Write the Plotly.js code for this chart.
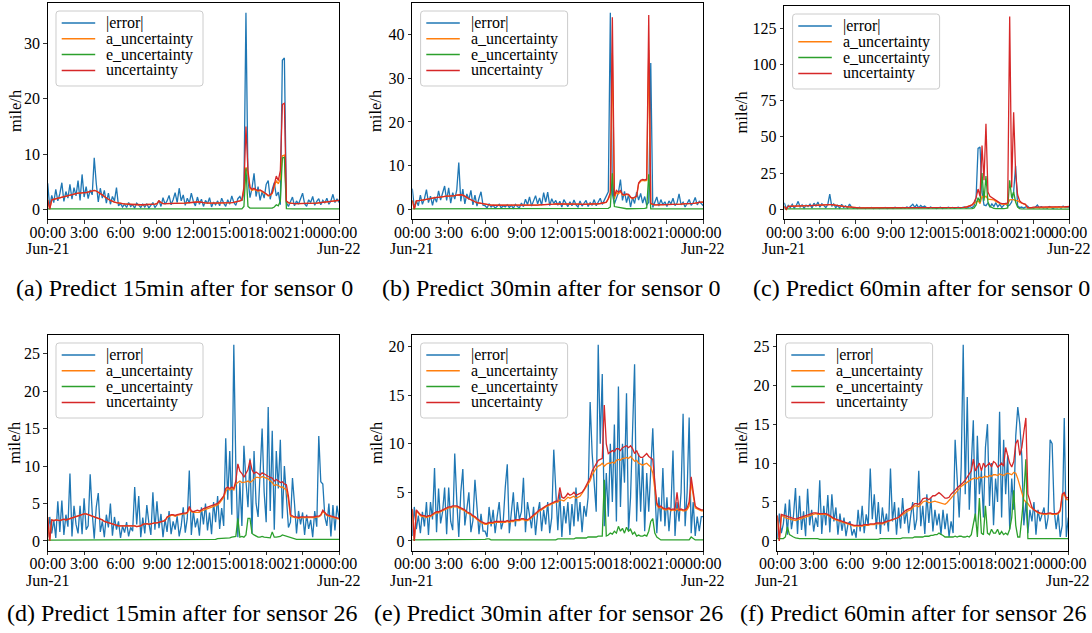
<!DOCTYPE html>
<html><head><meta charset="utf-8">
<script src="https://cdn.plot.ly/plotly-3.0.1.min.js"></script>
<style>html,body{margin:0;padding:0;background:#fff}#chart{width:1092px;height:633px}</style>
</head><body><div id="chart"></div>
<script>
// time of day in minutes (10-minute steps, 00:00 Jun-21 .. 00:00 Jun-22)
const minutes = [0,10,20,30,40,50,60,70,80,90,100,110,120,130,140,150,160,170,180,190,200,210,220,230,240,250,260,270,280,290,300,310,320,330,340,350,360,370,380,390,400,410,420,430,440,450,460,470,480,490,500,510,520,530,540,550,560,570,580,590,600,610,620,630,640,650,660,670,680,690,700,710,720,730,740,750,760,770,780,790,800,810,820,830,840,850,860,870,880,890,900,910,920,930,940,950,960,970,980,990,1000,1010,1020,1030,1040,1050,1060,1070,1080,1090,1100,1110,1120,1130,1140,1150,1160,1170,1180,1190,1200,1210,1220,1230,1240,1250,1260,1270,1280,1290,1300,1310,1320,1330,1340,1350,1360,1370,1380,1390,1400,1410,1420,1430,1440];
const tickMinutes = [0,180,360,540,720,900,1080,1260,1440];
const tickLabels = ['00:00','3:00','6:00','9:00','12:00','15:00','18:00','21:00','00:00'];
const seriesNames = ['|error|','a_uncertainty','e_uncertainty','uncertainty'];
const yTitle = 'mile/h';
const captions = ['(a) Predict 15min after for sensor 0','(b) Predict 30min after for sensor 0','(c) Predict 60min after for sensor 0',
                  '(d) Predict 15min after for sensor 26','(e) Predict 30min after for sensor 26','(f) Predict 60min after for sensor 26'];

// ---------- (a) sensor 0, 15 min ----------
const errA = [4.7,0.3,2.5,1.2,3.6,1.5, 2.8,4.8,1.4,3.2,2.0,4.5, 1.8,3.9,2.4,5.2,1.6,6.3, 2.2,4.1,1.9,3.5,2.6,9.3, 4.7,1.3,3.8,2.0,3.4,1.1, 2.9,0.9,2.3,1.5,3.9,0.6, 1.0,0.4,0.9,0.3,1.2,0.5, 0.8,0.2,1.1,0.6,0.3,0.9, 0.4,1.0,0.2,0.7,1.2,0.3, 0.8,1.6,0.5,2.1,0.9,1.5, 2.5,0.8,1.7,3.0,1.2,3.8, 1.5,2.6,0.7,2.0,1.1,2.9, 1.4,0.6,2.2,0.9,1.8,0.5, 1.6,1.0,2.1,0.4,1.3,0.8, 1.5,0.6,2.0,1.1,0.5,1.7, 0.9,2.4,1.2,0.7,1.9,2.3, 1.5,3.0,35.6,5.5,2.1,3.8, 6.5,2.3,4.1,1.6,3.2,2.0, 4.5,5.2,1.8,3.6,4.8,2.4, 3.1,0.8,27.0,27.4,1.2,0.5, 1.3,2.2,0.6,1.5,0.9,1.8, 2.9,1.0,0.5,1.7,1.2,2.3, 0.7,1.4,1.9,0.8,1.6,1.1, 2.0,0.9,1.5,2.7,1.2,1.9, 1.2];
const aA = [1.7,0.0,1.7,1.8,1.8,1.9, 2.0,2.1,2.3,2.4,2.5,2.6, 2.7,2.7,2.8,2.9,2.9,3.0, 3.0,3.0,3.1,3.2,3.3,3.4, 3.3,3.1,2.9,2.6,2.3,2.0, 1.8,1.6,1.4,1.3,1.2,1.1, 1.0,1.0,0.95,0.9,0.9,0.9, 0.85,0.85,0.8,0.8,0.8,0.8, 0.8,0.8,0.85,0.85,0.9,0.9, 1.0,1.5,1.2,1.0,1.0,1.0, 1.0,1.0,1.0,1.05,1.1,1.1, 1.1,1.1,1.1,1.15,1.2,1.2, 1.2,1.25,1.3,1.3,1.2,1.2, 1.15,1.1,1.1,1.1,1.1,1.1, 1.1,1.1,1.15,1.1,1.1,1.1, 1.15,1.2,1.25,1.3,1.4,1.5, 1.65,3.5,7.6,6.5,3.8,3.4, 3.6,3.35,3.25,3.4,3.2,3.0, 2.7,2.4,2.5,2.8,4.1,5.2, 4.6,5.5,9.7,9.8,1.4,1.15, 1.1,1.0,1.0,1.0,1.0,1.0, 1.0,1.0,1.0,1.0,1.05,1.1, 1.1,1.1,1.15,1.2,1.2,1.25, 1.3,1.35,1.4,1.5,1.5,1.55, 1.6];
const eA = [0.05,0.05,0.05,0.05,0.05,0.05, 0.05,0.05,0.05,0.05,0.05,0.05, 0.05,0.05,0.05,0.05,0.05,0.05, 0.05,0.05,0.05,0.05,0.05,0.05, 0.05,0.05,0.05,0.05,0.05,0.05, 0.05,0.05,0.05,0.05,0.05,0.05, 0.05,0.05,0.05,0.05,0.05,0.05, 0.05,0.05,0.05,0.05,0.05,0.05, 0.05,0.05,0.05,0.05,0.05,0.05, 0.05,0.05,0.05,0.05,0.05,0.05, 0.05,0.05,0.05,0.05,0.05,0.05, 0.05,0.05,0.05,0.05,0.05,0.05, 0.05,0.05,0.05,0.05,0.05,0.05, 0.05,0.05,0.05,0.05,0.05,0.05, 0.05,0.05,0.05,0.05,0.05,0.05, 0.05,0.05,0.05,0.05,0.05,0.05, 0.05,0.5,7.4,0.5,0.2,0.2, 0.2,0.15,0.15,0.1,0.1,0.1, 0.1,0.1,0.1,0.2,0.4,0.8, 0.6,1.5,9.3,9.4,0.1,0.05, 0.05,0.05,0.05,0.05,0.05,0.05, 0.05,0.05,0.05,0.05,0.05,0.05, 0.05,0.05,0.05,0.05,0.05,0.05, 0.05,0.05,0.05,0.05,0.05,0.05, 0.05];
const uncA = [1.7,0.0,1.7,1.8,1.8,1.9, 2.0,2.1,2.3,2.4,2.5,2.6, 2.7,2.7,2.8,2.9,2.9,3.0, 3.0,3.0,3.1,3.2,3.3,3.4, 3.3,3.1,2.9,2.6,2.3,2.0, 1.8,1.6,1.4,1.3,1.2,1.1, 1.0,1.0,0.95,0.9,0.9,0.9, 0.85,0.85,0.8,0.8,0.8,0.8, 0.8,0.8,0.85,0.85,0.9,0.9, 1.0,1.5,1.2,1.0,1.0,1.0, 1.0,1.0,1.0,1.05,1.1,1.1, 1.1,1.1,1.1,1.15,1.2,1.2, 1.2,1.25,1.3,1.3,1.2,1.2, 1.15,1.1,1.1,1.1,1.1,1.1, 1.1,1.1,1.15,1.1,1.1,1.1, 1.15,1.2,1.25,1.3,1.4,1.5, 1.7,4.0,15.0,7.0,4.0,3.6, 3.8,3.5,3.4,3.5,3.3,3.1, 2.8,2.5,2.6,3.0,4.5,6.0, 5.2,7.0,19.0,19.2,1.5,1.2, 1.1,1.0,1.0,1.0,1.0,1.0, 1.0,1.0,1.0,1.0,1.05,1.1, 1.1,1.1,1.15,1.2,1.2,1.25, 1.3,1.35,1.4,1.5,1.5,1.55, 1.6];

// ---------- (b) sensor 0, 30 min ----------
const errB = [4.7,0.3,1.9,0.8,3.2,1.1, 2.4,4.5,1.5,3.0,0.9,2.8, 1.6,4.2,2.1,3.6,5.3,2.0, 4.9,1.4,3.8,2.3,4.4,10.7, 1.8,4.6,1.2,3.5,2.2,4.3, 1.0,3.2,0.7,2.5,4.0,0.9, 0.8,0.3,1.2,0.5,0.9,0.2, 0.7,1.1,0.3,0.8,0.5,1.0, 0.4,0.9,0.2,1.1,0.6,0.3, 1.4,0.6,2.3,1.0,2.8,0.7, 1.9,3.1,1.2,2.6,0.9,3.8, 1.6,3.9,0.8,2.4,1.3,2.0, 0.9,1.8,0.5,2.2,1.4,0.6, 1.7,0.8,2.1,1.0,0.5,1.9, 0.7,1.3,2.0,0.6,1.5,0.9, 2.2,0.8,1.6,2.5,1.1,2.0, 2.8,4.0,45.0,3.5,1.2,2.5, 3.8,6.8,2.0,4.1,1.5,3.3, 0.5,2.7,1.3,3.9,2.1,3.6, 1.4,2.9,0.9,1.6,33.5,0.4, 1.5,2.8,0.7,2.2,1.0,1.7, 0.6,1.9,1.2,2.5,0.8,1.4, 3.5,1.0,1.6,0.5,1.3,2.2, 0.9,1.5,2.7,1.0,1.8,1.2, 0.8];
const aB = [2.0,0.0,1.9,1.9,2.0,2.1, 2.2,2.3,2.4,2.5,2.5,2.6, 2.7,2.7,2.8,2.9,2.9,3.0, 3.0,3.0,3.1,3.1,3.2,3.3, 3.3,3.2,3.0,2.7,2.4,2.1, 1.9,1.7,1.5,1.4,1.3,1.2, 1.1,1.0,1.0,0.95,0.9,0.9, 0.85,0.85,0.8,0.8,0.8,0.8, 0.8,0.8,0.8,0.8,0.85,0.85, 0.85,0.9,0.9,0.9,0.9,0.9, 0.9,0.95,0.95,1.0,1.0,1.0, 1.05,1.1,1.1,1.1,1.15,1.2, 1.2,1.25,1.3,1.3,1.3,1.25, 1.25,1.2,1.2,1.2,1.15,1.15, 1.1,1.1,1.1,1.1,1.1,1.1, 1.15,1.2,1.25,1.3,1.4,1.5, 1.55,2.3,3.3,35.8,2.4,3.8, 3.5,4.0,3.2,3.2,3.4,3.3, 2.7,2.4,2.6,2.9,5.8,6.4, 6.6,6.5,6.6,36.5,1.2,1.05, 1.0,1.0,1.0,1.0,1.0,1.0, 1.0,1.0,1.0,1.05,1.1,1.1, 1.1,1.15,1.2,1.2,1.25,1.3, 1.3,1.35,1.4,1.5,1.55,1.6, 1.6];
const eB = [0.05,0.05,0.05,0.05,0.05,0.05, 0.05,0.05,0.05,0.05,0.05,0.05, 0.05,0.05,0.05,0.05,0.05,0.05, 0.05,0.05,0.05,0.05,0.05,0.05, 0.05,0.05,0.05,0.05,0.05,0.05, 0.05,0.05,0.05,0.05,0.05,0.05, 0.05,0.05,0.05,0.05,0.05,0.05, 0.05,0.05,0.05,0.05,0.05,0.05, 0.05,0.05,0.05,0.05,0.05,0.05, 0.05,0.05,0.05,0.05,0.05,0.05, 0.05,0.05,0.05,0.05,0.05,0.05, 0.05,0.05,0.05,0.05,0.05,0.05, 0.05,0.05,0.05,0.05,0.05,0.05, 0.05,0.05,0.05,0.05,0.05,0.05, 0.05,0.05,0.05,0.05,0.05,0.05, 0.05,0.05,0.05,0.05,0.05,0.05, 0.05,0.2,0.5,8.2,0.6,0.5, 0.4,0.3,0.2,0.1,0.1,0.1, 0.1,0.1,0.1,0.1,0.2,0.2, 0.2,0.2,0.3,8.0,0.1,0.05, 0.05,0.05,0.05,0.05,0.05,0.05, 0.05,0.05,0.05,0.05,0.05,0.05, 0.05,0.05,0.05,0.05,0.05,0.05, 0.05,0.05,0.05,0.05,0.05,0.05, 0.05];
const uncB = [2.0,0.0,1.9,1.9,2.0,2.1, 2.2,2.3,2.4,2.5,2.5,2.6, 2.7,2.7,2.8,2.9,2.9,3.0, 3.0,3.0,3.1,3.1,3.2,3.3, 3.3,3.2,3.0,2.7,2.4,2.1, 1.9,1.7,1.5,1.4,1.3,1.2, 1.1,1.0,1.0,0.95,0.9,0.9, 0.85,0.85,0.8,0.8,0.8,0.8, 0.8,0.8,0.8,0.8,0.85,0.85, 0.85,0.9,0.9,0.9,0.9,0.9, 0.9,0.95,0.95,1.0,1.0,1.0, 1.05,1.1,1.1,1.1,1.15,1.2, 1.2,1.25,1.3,1.3,1.3,1.25, 1.25,1.2,1.2,1.2,1.15,1.15, 1.1,1.1,1.1,1.1,1.1,1.1, 1.15,1.2,1.25,1.3,1.4,1.5, 1.6,2.5,3.8,44.0,3.0,4.3, 3.9,4.3,3.4,3.3,3.5,3.4, 2.8,2.5,2.7,3.0,6.0,6.6, 6.8,6.7,6.9,44.5,1.3,1.1, 1.0,1.0,1.0,1.0,1.0,1.0, 1.0,1.0,1.0,1.05,1.1,1.1, 1.1,1.15,1.2,1.2,1.25,1.3, 1.3,1.35,1.4,1.5,1.55,1.6, 1.6];

// ---------- (c) sensor 0, 60 min ----------
const errC = [4.5,0.5,2.8,1.2,3.4,0.9, 2.5,5.5,1.6,3.1,0.8,2.9, 1.9,3.6,1.0,4.2,2.3,5.0, 1.5,3.8,2.6,1.2,3.4,10.5, 2.0,3.7,1.1,2.8,0.8,3.5, 1.3,2.4,0.9,3.6,1.5,0.7, 1.2,0.6,1.4,0.8,1.0,0.5, 1.1,0.7,1.3,0.6,0.9,1.2, 0.5,1.0,0.7,1.3,0.6,0.9, 1.2,0.6,1.5,0.8,1.1,0.7, 1.3,0.9,1.6,1.0,2.2,3.5, 1.4,3.2,1.0,2.7,1.5,2.3, 1.1,0.7,1.6,0.9,1.2,0.6, 1.0,1.4,0.6,1.2,0.8,1.5, 0.9,1.3,0.7,1.1,1.4,0.8, 1.2,1.6,0.9,1.3,1.8,1.1, 2.5,8.0,42.0,43.0,12.0,3.0, 2.5,4.5,1.5,3.8,2.0,4.6, 1.8,3.5,1.2,2.9,4.0,2.2, 3.0,5.0,12.0,30.0,2.5,1.2, 1.6,0.8,1.5,2.3,0.9,1.2, 0.7,1.5,3.0,1.0,1.8,0.9, 1.3,0.8,1.9,1.1,0.6,1.4, 1.0,1.7,0.8,2.2,1.2,1.6, 1.2];
const aC = [2.0,0.0,2.0,2.0,2.1,2.1, 2.2,2.2,2.3,2.4,2.4,2.5, 2.5,2.6,2.7,2.7,2.8,2.9, 2.9,3.0,3.0,3.1,3.1,3.2, 3.2,3.1,2.9,2.7,2.5,2.3, 2.1,1.9,1.7,1.5,1.3,1.2, 1.1,1.0,1.0,1.0,1.0,1.0, 1.0,1.0,1.0,1.0,1.0,1.0, 1.0,1.0,1.0,1.0,1.0,1.0, 1.0,1.0,1.0,1.1,1.1,1.1, 1.1,1.1,1.1,1.1,1.2,1.2, 1.2,1.2,1.2,1.2,1.2,1.2, 1.2,1.2,1.2,1.1,1.1,1.1, 1.1,1.1,1.1,1.1,1.1,1.1, 1.1,1.1,1.1,1.2,1.2,1.2, 1.3,1.4,1.6,2.0,2.5,3.0, 4.0,5.0,6.0,4.0,9.0,8.0, 9.0,7.0,7.0,7.0,6.5,5.5, 4.6,4.1,3.6,3.3,3.4,3.5, 6.5,6.7,6.7,6.0,6.0,5.0, 4.2,3.7,3.3,1.0,0.8,1.0, 1.3,1.3,1.2,1.1,1.1,1.1, 1.1,1.1,1.1,1.2,1.2,1.2, 1.3,1.3,1.4,1.5,1.6,1.7, 1.8];
const eC = [0.3,0.3,0.3,0.3,0.3,0.3, 0.3,0.3,0.3,0.3,0.3,0.3, 0.3,0.3,0.3,0.3,0.3,0.3, 0.3,0.3,0.3,0.3,0.3,0.3, 0.3,0.3,0.3,0.3,0.3,0.3, 0.3,0.3,0.3,0.3,0.3,0.3, 0.2,0.2,0.2,0.2,0.2,0.2, 0.2,0.2,0.2,0.2,0.2,0.2, 0.2,0.2,0.2,0.2,0.2,0.2, 0.2,0.2,0.2,0.2,0.2,0.2, 0.2,0.2,0.2,0.2,0.2,0.2, 0.2,0.2,0.2,0.2,0.2,0.2, 0.2,0.2,0.2,0.2,0.2,0.2, 0.2,0.2,0.2,0.2,0.2,0.2, 0.2,0.2,0.2,0.2,0.2,0.2, 0.2,0.2,0.2,0.3,0.3,0.5, 1.0,3.0,8.0,5.0,25.0,6.0, 23.0,5.0,2.0,1.0,0.6,0.5, 0.4,0.4,0.4,0.5,0.6,1.0, 20.0,8.0,12.0,5.0,1.5,0.5, 0.3,0.3,0.2,0.2,0.2,0.2, 0.2,0.2,0.2,0.2,0.2,0.2, 0.2,0.2,0.2,0.2,0.2,0.2, 0.2,0.2,0.2,0.2,0.2,0.2, 0.2];
const uncC = [2.0,0.0,2.0,2.0,2.1,2.1, 2.2,2.2,2.3,2.4,2.4,2.5, 2.5,2.6,2.7,2.7,2.8,2.9, 2.9,3.0,3.0,3.1,3.1,3.2, 3.2,3.1,2.9,2.7,2.5,2.3, 2.1,1.9,1.7,1.5,1.3,1.2, 1.1,1.0,1.0,1.0,1.0,1.0, 1.0,1.0,1.0,1.0,1.0,1.0, 1.0,1.0,1.0,1.0,1.0,1.0, 1.0,1.0,1.0,1.1,1.1,1.1, 1.1,1.1,1.1,1.1,1.2,1.2, 1.2,1.2,1.2,1.2,1.2,1.2, 1.2,1.2,1.2,1.1,1.1,1.1, 1.1,1.1,1.1,1.1,1.1,1.1, 1.1,1.1,1.1,1.2,1.2,1.2, 1.3,1.4,1.6,2.0,2.5,3.0, 5.0,8.0,14.0,9.0,44.0,20.0, 59.0,12.0,9.0,8.0,7.0,6.0, 5.0,4.5,4.0,3.8,4.0,4.5, 133.0,15.0,67.0,25.0,10.0,6.0, 4.5,4.0,3.5,1.2,1.0,1.2, 1.5,1.5,1.4,1.3,1.3,1.3, 1.3,1.3,1.3,1.4,1.4,1.4, 1.5,1.5,1.6,1.7,1.8,1.9, 2.0];

// ---------- (d) sensor 26, 15 min ----------
const errD = [0.5,3.2,1.0,2.8,0.4,5.3, 1.2,5.4,0.8,3.5,1.9,9.0, 0.6,4.7,2.2,1.0,4.7,0.9, 5.7,1.5,2.0,8.9,3.8,0.3, 4.5,6.4,1.2,2.6,0.5,3.5, 1.8,5.0,0.7,3.2,1.5,2.6, 0.4,2.0,1.1,2.5,0.6,1.8, 1.3,7.2,2.2,6.0,0.5,3.1, 1.0,4.8,2.4,0.8,6.5,1.5, 5.3,1.7,3.6,0.5,2.9,1.2, 4.0,0.9,2.6,1.5,3.3,0.6, 2.0,4.5,1.1,3.0,9.4,0.8, 4.0,1.8,3.0,0.7,4.5,2.2, 5.0,1.4,3.8,0.9,5.2,2.5, 6.0,1.6,4.4,2.0,13.7,5.5, 12.0,3.5,26.2,10.0,0.5,7.8, 2.0,12.7,8.0,4.5,11.0,1.0, 12.0,5.0,3.2,10.0,15.0,6.5, 2.5,17.9,4.0,14.7,1.5,12.0, 7.0,13.5,3.0,10.0,6.0,1.8, 2.5,8.4,5.0,1.0,4.0,2.2, 3.8,0.8,3.5,1.6,2.8,0.5, 4.0,1.9,14.0,7.9,7.6,3.2, 2.0,5.0,0.6,4.8,1.4,4.7, 3.0];
const aD = [3.2,0.0,2.8,2.7,2.8,2.7, 2.7,2.8,2.9,2.8,2.9,3.0, 3.0,3.1,3.3,3.4,3.5,3.6, 3.6,3.6,3.5,3.5,3.4,3.3, 3.2,3.1,3.0,2.8,2.6,2.5, 2.4,2.3,2.2,2.1,2.0,2.0, 2.0,2.0,2.0,2.1,2.0,2.0, 2.0,2.0,1.9,1.9,2.0,2.2, 2.3,2.3,2.2,2.3,2.4,2.4, 2.4,2.5,2.6,2.6,2.7,3.1, 3.3,3.4,3.4,3.3,3.4,3.5, 3.5,3.6,3.6,3.7,4.3,3.9, 3.8,3.8,3.9,3.8,4.0,4.1, 4.2,4.3,4.4,4.4,4.5,4.6, 4.8,5.1,5.4,5.8,6.6,7.0, 6.8,7.0,6.8,7.6,7.8,8.0, 7.8,7.8,7.9,8.0,7.8,8.0, 8.2,8.5,8.5,8.4,8.6,8.5, 8.5,8.3,8.0,7.8,7.4,7.5, 7.4,7.2,7.2,7.0,6.8,5.5, 3.3,3.2,3.1,3.1,3.0,3.1, 3.1,3.0,3.1,3.1,3.0,3.1, 3.1,3.2,3.2,3.4,3.9,3.7, 3.4,3.3,3.2,3.2,3.1,3.0, 2.9];
const eD = [0.1,0.1,0.1,0.1,0.1,0.1, 0.1,0.1,0.1,0.1,0.1,0.1, 0.1,0.1,0.1,0.1,0.1,0.1, 0.1,0.1,0.1,0.1,0.1,0.1, 0.1,0.1,0.1,0.1,0.1,0.1, 0.1,0.1,0.1,0.1,0.1,0.1, 0.1,0.1,0.1,0.1,0.1,0.1, 0.1,0.1,0.1,0.1,0.1,0.1, 0.1,0.1,0.1,0.1,0.1,0.1, 0.1,0.1,0.1,0.1,0.1,0.1, 0.1,0.1,0.1,0.1,0.1,0.1, 0.1,0.1,0.1,0.1,0.1,0.1, 0.2,0.2,0.2,0.2,0.2,0.2, 0.2,0.2,0.2,0.2,0.2,0.2, 0.3,0.3,0.3,0.3,0.3,0.3, 0.4,0.5,0.5,0.6,3.0,0.5, 0.6,0.5,0.8,3.0,3.0,1.0, 0.8,0.6,0.5,0.5,0.6,0.5, 0.5,0.4,0.4,1.2,0.5,0.5, 0.5,0.6,0.8,0.7,0.6,0.6, 0.5,0.3,0.2,0.2,0.2,0.2, 0.2,0.2,0.2,0.2,0.2,0.2, 0.2,0.2,0.2,0.2,0.2,0.2, 0.2,0.2,0.2,0.2,0.2,0.2, 0.2];
const uncD = [3.2,0.0,2.8,2.7,2.8,2.7, 2.7,2.8,2.9,2.8,2.9,3.0, 3.0,3.1,3.3,3.4,3.5,3.6, 3.6,3.6,3.5,3.5,3.4,3.3, 3.2,3.1,3.0,2.8,2.6,2.5, 2.4,2.3,2.2,2.1,2.0,2.0, 2.0,2.0,2.0,2.1,2.0,2.0, 2.0,2.0,1.9,1.9,2.0,2.2, 2.3,2.3,2.2,2.3,2.4,2.4, 2.4,2.5,2.6,2.6,2.7,3.2, 3.4,3.5,3.5,3.4,3.5,3.6, 3.6,3.7,3.7,3.8,4.6,4.0, 3.9,4.0,4.1,4.0,4.2,4.3, 4.4,4.5,4.6,4.6,4.7,4.8, 5.0,5.3,5.6,6.0,7.0,7.2, 7.0,7.2,7.0,8.0,10.3,9.3, 9.0,8.5,9.0,9.5,10.8,9.5, 9.0,9.2,9.0,8.8,9.1,9.0, 8.8,8.6,8.5,8.4,8.0,8.2, 8.0,7.8,7.9,7.6,7.5,6.0, 3.5,3.3,3.2,3.2,3.1,3.2, 3.2,3.1,3.2,3.2,3.1,3.2, 3.2,3.3,3.3,3.5,4.1,3.8, 3.5,3.4,3.3,3.3,3.2,3.1, 3.0];

// ---------- (e) sensor 26, 30 min ----------
const errE = [0.5,3.5,1.2,2.6,0.8,3.0, 1.5,4.0,0.6,4.0,2.2,7.5, 0.9,5.4,1.8,3.0,5.5,0.7, 5.5,2.0,1.1,9.0,4.2,0.4, 5.0,7.4,1.6,3.3,5.0,0.9, 2.1,6.3,3.5,0.7,2.8,1.0, 1.0,0.4,3.5,1.5,3.2,0.8, 2.5,4.0,1.2,2.0,5.5,7.9, 0.8,3.1,5.0,1.5,4.0,2.2, 3.0,6.5,0.9,4.0,2.6,1.3, 3.5,0.6,2.8,4.0,1.0,3.2, 1.7,4.0,0.8,2.4,9.4,5.5, 1.1,5.0,0.4,3.6,1.8,4.0, 0.6,3.8,1.5,5.5,2.0,4.0, 0.9,3.6,2.5,4.5,14.3,9.0, 6.0,3.0,20.2,10.0,17.2,1.5, 7.0,2.5,10.0,4.0,12.0,2.0, 15.9,3.5,10.0,6.0,15.2,1.0, 4.5,11.0,18.2,2.0,9.0,3.0, 8.5,1.0,7.0,3.0,8.0,11.6, 5.5,0.8,4.5,2.0,7.5,1.5, 4.5,1.0,3.5,9.3,0.5,4.0, 2.0,5.0,13.1,1.5,5.0,12.7, 0.8,4.0,0.5,2.5,1.0,2.5, 2.5];
const aE = [3.2,0.0,3.1,2.8,2.6,2.5, 2.5,2.4,2.5,2.5,2.7,2.8, 2.9,2.9,3.0,3.1,3.2,3.3, 3.4,3.4,3.5,3.5,3.5,3.4, 3.3,3.2,3.1,2.9,2.8,2.7, 2.5,2.4,2.2,2.0,1.9,1.8, 1.7,1.7,1.8,1.8,1.8,1.9, 1.9,1.9,1.9,1.9,1.9,2.0, 1.9,2.0,2.0,2.1,2.1,2.1, 2.2,2.2,2.1,2.1,2.2,2.4, 2.6,2.8,3.0,3.1,3.2,3.4, 3.5,3.6,3.7,3.8,3.9,4.0, 4.0,4.2,4.2,4.1,4.3,4.5, 4.4,4.5,4.6,4.4,4.5,4.6, 4.9,5.2,5.5,5.8,6.2,6.8, 7.2,7.5,7.7,7.8,8.0,7.7, 7.9,8.0,8.0,8.1,8.0,8.3, 8.4,8.3,8.5,8.5,8.6,8.5, 8.7,8.5,8.2,8.3,8.0,7.9, 7.8,7.9,8.0,7.8,7.6,7.0, 5.2,3.7,3.4,3.5,3.3,3.2, 3.2,3.3,3.1,3.2,3.1,3.3, 3.1,3.2,3.1,3.1,3.2,3.6, 6.0,4.5,3.4,3.3,3.2,3.1, 3.1];
const eE = [0.1,0.1,0.1,0.1,0.1,0.1, 0.1,0.1,0.1,0.1,0.1,0.1, 0.1,0.1,0.1,0.1,0.1,0.1, 0.1,0.1,0.1,0.1,0.1,0.1, 0.1,0.1,0.1,0.1,0.1,0.1, 0.1,0.1,0.1,0.1,0.1,0.1, 0.15,0.2,0.2,0.1,0.1,0.1, 0.1,0.1,0.1,0.1,0.1,0.1, 0.1,0.1,0.1,0.1,0.1,0.1, 0.1,0.1,0.1,0.1,0.1,0.1, 0.1,0.1,0.1,0.1,0.1,0.1, 0.1,0.1,0.1,0.1,0.1,0.1, 0.2,0.2,0.2,0.2,0.2,0.2, 0.2,0.2,0.2,0.3,0.3,0.3, 0.3,0.3,0.3,0.4,0.4,0.4, 0.4,0.4,0.5,0.5,0.5,6.3, 0.5,0.6,0.8,0.7,1.0,0.8, 1.5,1.0,1.3,0.8,1.4,1.0, 1.2,0.7,0.9,0.5,0.6,0.5, 0.5,0.6,0.5,1.0,2.0,2.3, 0.8,0.4,0.2,0.1,0.1,0.1, 0.1,0.1,0.1,0.1,0.1,0.1, 0.1,0.1,0.1,0.1,0.1,0.1, 0.4,0.2,0.1,0.1,0.1,0.1, 0.1];
const uncE = [3.3,0.0,3.2,2.9,2.7,2.6, 2.6,2.5,2.6,2.6,2.8,2.9, 3.0,3.0,3.1,3.2,3.3,3.4, 3.5,3.5,3.6,3.6,3.6,3.5, 3.4,3.3,3.2,3.0,2.9,2.8, 2.6,2.5,2.3,2.1,2.0,1.9, 1.8,1.8,1.9,1.9,1.9,2.0, 2.0,2.0,2.0,2.0,2.0,2.1, 2.0,2.1,2.1,2.2,2.2,2.2, 2.3,2.3,2.2,2.2,2.3,2.5, 2.7,2.9,3.1,3.2,3.3,3.5, 3.6,3.7,3.8,3.9,4.0,4.1, 4.1,5.5,4.5,4.4,4.6,4.9, 4.7,4.8,5.0,4.7,4.8,4.9, 5.0,5.3,5.7,6.0,6.5,7.2, 7.6,7.9,8.3,8.4,8.5,14.0, 10.0,9.0,9.2,9.3,9.2,9.5, 9.5,9.3,9.6,9.7,9.8,9.6, 9.8,9.5,9.0,9.3,8.8,8.6, 8.6,8.8,9.0,8.7,8.5,8.4, 6.0,3.9,3.5,3.6,3.4,3.3, 3.3,3.4,3.2,3.3,3.2,5.0, 3.2,3.3,3.2,3.2,3.4,4.0, 6.6,5.0,3.6,3.4,3.3,3.2, 3.2];

// ---------- (f) sensor 26, 60 min ----------
const errF = [0.3,3.5,1.0,2.2,4.8,0.8, 5.3,1.5,3.2,6.8,0.9,5.8, 1.4,3.8,0.6,6.7,2.0,4.0, 1.2,3.0,1.8,7.8,0.9,4.5, 2.0,5.9,1.1,6.0,2.5,4.3, 0.8,3.5,1.3,3.0,0.6,2.2, 2.5,0.7,1.5,0.4,4.0,1.2, 4.5,1.0,3.4,2.0,9.3,2.8, 6.0,1.5,5.0,0.9,4.3,2.0, 3.5,1.2,9.3,2.5,5.0,0.8, 4.3,1.6,5.5,2.2,4.0,1.0, 3.2,5.0,1.4,2.8,9.0,1.9, 4.5,0.9,6.0,2.3,5.5,1.2, 4.0,2.0,3.5,0.8,4.0,1.5, 3.5,0.5,2.5,1.0,13.0,8.0, 3.0,9.5,25.2,6.0,18.5,4.0, 10.0,15.5,2.5,13.5,6.0,9.0, 3.0,12.0,15.0,4.5,10.0,2.0, 8.0,5.0,16.6,3.0,13.0,6.0, 11.0,1.5,8.0,4.0,13.5,17.2, 15.0,10.8,2.0,5.0,1.0,4.0, 2.5,5.0,0.8,4.0,2.5,3.5, 4.3,1.5,3.0,13.0,12.5,4.0, 1.5,3.5,0.5,2.0,15.8,0.5, 3.0];
const aF = [3.2,0.0,3.3,3.1,3.0,2.9, 2.8,2.7,2.6,2.6,2.7,2.8, 2.9,3.0,3.1,3.2,3.3,3.4, 3.5,3.5,3.4,3.4,3.4,3.4, 3.4,3.3,3.1,2.9,2.8,2.7, 2.6,2.5,2.4,2.3,2.2,2.1, 2.0,2.0,1.9,1.9,1.9,1.9, 1.9,2.0,2.0,2.0,2.1,2.1, 2.1,2.2,2.2,2.2,2.2,2.3, 2.4,2.5,2.6,2.6,2.7,2.8, 3.0,3.2,3.4,3.6,3.8,3.9, 4.0,4.2,4.5,4.5,4.4,4.7, 5.0,5.1,5.1,4.9,5.0,5.1, 5.1,5.0,4.9,4.8,4.8,4.7, 4.9,5.2,5.6,5.9,6.2,6.5, 6.7,7.0,7.2,7.4,7.6,7.8, 7.9,8.0,8.1,8.0,8.2,8.1, 8.2,8.3,8.2,8.4,8.3,8.5, 8.5,8.4,8.6,8.5,8.4,8.6, 8.7,8.6,8.5,8.8,8.7,8.0, 7.0,6.0,5.3,5.0,4.8,4.4, 4.2,3.9,3.7,3.6,3.5,3.4, 3.4,3.4,3.5,3.5,3.4,3.4, 3.4,3.5,3.8,5.8,6.0,5.3, 5.3];
const eF = [0.3,0.3,0.3,0.3,0.5,1.8, 0.8,0.6,0.5,0.4,0.3,0.3, 0.3,0.3,0.3,0.3,0.3,0.3, 0.3,0.3,0.3,0.2,0.2,0.2, 0.2,0.2,0.2,0.2,0.2,0.2, 0.2,0.2,0.2,0.2,0.2,0.2, 0.2,0.2,0.2,0.2,0.2,0.2, 0.2,0.2,0.2,0.2,0.2,0.2, 0.2,0.2,0.2,0.3,0.3,0.3, 0.3,0.3,0.3,0.3,0.3,0.3, 0.3,0.3,0.4,0.4,0.4,0.4, 0.4,0.4,0.5,0.5,0.5,0.5, 0.5,0.6,0.6,0.6,0.7,0.7, 0.8,0.8,1.0,0.9,0.7,0.5, 0.5,0.5,0.5,0.5,0.6,0.5, 0.6,0.6,0.5,0.5,0.6,0.5, 0.8,2.0,3.5,0.5,5.5,1.0, 0.8,4.5,1.0,0.8,1.5,1.0, 1.0,1.5,0.8,1.2,0.8,1.0, 0.8,1.5,3.0,6.5,2.0,0.5, 0.5,3.0,6.0,10.5,0.3,0.3, 0.3,0.3,0.3,0.3,0.3,0.3, 0.3,0.3,0.3,0.3,0.3,0.3, 0.3,0.3,0.3,0.3,0.3,0.3, 0.3];
const uncF = [3.3,0.0,3.4,3.3,3.2,3.1, 3.0,2.9,2.8,2.8,2.9,3.0, 3.0,3.1,3.2,3.3,3.4,3.5, 3.6,3.6,3.5,3.5,3.5,3.5, 3.5,3.4,3.2,3.0,2.9,2.8, 2.7,2.6,2.5,2.4,2.3,2.2, 2.1,2.1,2.0,2.0,2.0,2.0, 2.0,2.1,2.1,2.1,2.2,2.2, 2.2,2.3,2.3,2.3,2.3,2.4, 2.5,2.6,2.7,2.7,2.8,2.9, 3.0,3.3,3.6,3.8,4.0,4.1, 4.2,4.5,4.8,4.8,4.7,5.0, 5.4,5.5,5.5,5.3,5.6,5.8, 5.8,6.0,6.2,6.0,5.8,5.5, 5.5,5.6,6.0,6.2,6.5,6.8, 7.0,7.3,7.5,7.8,8.2,8.5, 9.0,10.5,9.0,9.5,10.0,9.0, 10.0,9.5,9.8,10.0,9.5,10.2, 10.0,9.5,9.7,10.0,9.6,12.0, 11.0,10.0,9.5,10.2,12.5,13.0, 11.0,12.0,14.0,15.8,6.0,5.0, 4.3,4.0,3.8,3.7,3.6,3.5, 3.5,3.5,3.6,3.6,3.5,3.5, 3.5,3.6,4.0,6.0,6.2,5.5, 5.6];

// ---------- drawing ----------
const W = 1092, H = 633;
const colors = ['#1f77b4','#ff7f0e','#2ca02c','#d62728'];
const FONT = 'Liberation Serif, Times New Roman, Times, serif';
const panelData = [
  [errA, aA, eA, uncA], [errB, aB, eB, uncB], [errC, aC, eC, uncC],
  [errD, aD, eD, uncD], [errE, aE, eE, uncE], [errF, aF, eF, uncF]
];
// axes boxes in pixels
const boxes = [
  {l:47.7, r:339.0, t:3.0, b:219.0}, {l:412.3, r:703.3, t:3.0, b:219.0}, {l:784.3, r:1069.0, t:6.0, b:219.0},
  {l:47.7, r:339.0, t:335.0, b:550.7}, {l:412.3, r:703.3, t:335.0, b:550.7}, {l:777.3, r:1068.3, t:335.0, b:550.7}
];
const yRanges = [[-1.78,37.38],[-2.25,47.25],[-6.67,140.2],[-1.31,27.51],[-1.01,21.21],[-1.26,26.46]];
const yDticks = [10,10,25,5,5,5];
const captionPos = [[184,288],[551,288],[921,288],[182,613],[548,613],[913,613]];
const junY = [249,249,249,580,580,580];
const yTitleX = [15,375,741,15,377,742];

const px = x => x / W, py = y => 1 - y / H;
const traces = [], shapes = [], annotations = [];
const layout = {
  width: W, height: H, margin: {l:0, r:0, t:0, b:0},
  paper_bgcolor: '#fff', plot_bgcolor: '#fff', showlegend: false,
  font: {family: FONT, color: '#000', size: 16},
};

panelData.forEach((series, p) => {
  const k = p === 0 ? '' : String(p + 1);
  const xa = 'x' + k, ya = 'y' + k;
  series.forEach((vals, s) => {
    traces.push({
      type: 'scatter', mode: 'lines', x: minutes, y: vals, name: seriesNames[s],
      xaxis: xa, yaxis: ya, line: {color: colors[s], width: 1.3}, hoverinfo: 'skip'
    });
  });
  const bx = boxes[p];
  layout['xaxis' + k] = {
    domain: [px(bx.l), px(bx.r)], anchor: ya, range: [0, 1440],
    tickmode: 'array', tickvals: tickMinutes, ticktext: tickLabels, tickangle: 0,
    ticks: 'outside', ticklen: 3.5, tickwidth: 0.8, tickcolor: '#000', ticklabelstandoff: -5,
    showline: true, mirror: true, linecolor: '#000', linewidth: 1,
    showgrid: false, zeroline: false, tickfont: {family: FONT, size: 16, color: '#000'}
  };
  layout['yaxis' + k] = {
    domain: [py(bx.b), py(bx.t)], anchor: xa, range: yRanges[p],
    tick0: 0, dtick: yDticks[p],
    ticks: 'outside', ticklen: 3.5, tickwidth: 0.8, tickcolor: '#000',
    showline: true, mirror: true, linecolor: '#000', linewidth: 1,
    showgrid: false, zeroline: false, tickfont: {family: FONT, size: 16, color: '#000'}
  };
  // y-axis label
  annotations.push({xref: 'paper', yref: 'paper', x: px(yTitleX[p]), y: py((bx.t + bx.b) / 2),
    xanchor: 'center', yanchor: 'middle', textangle: -90, showarrow: false, text: yTitle,
    font: {family: FONT, size: 16.5, color: '#000'}});
  // legend box (rounded)
  const L = bx.l + 8.3, R = bx.l + 155.3, T = bx.t + 8, B = bx.t + 83, rr = 3;
  const P = (x, y) => px(x).toFixed(5) + ',' + py(y).toFixed(5);
  shapes.push({
    type: 'path', xref: 'paper', yref: 'paper', layer: 'above',
    path: 'M' + P(L + rr, T) + ' L' + P(R - rr, T) + ' Q' + P(R, T) + ' ' + P(R, T + rr) +
          ' L' + P(R, B - rr) + ' Q' + P(R, B) + ' ' + P(R - rr, B) +
          ' L' + P(L + rr, B) + ' Q' + P(L, B) + ' ' + P(L, B - rr) +
          ' L' + P(L, T + rr) + ' Q' + P(L, T) + ' ' + P(L + rr, T) + ' Z',
    fillcolor: 'rgba(255,255,255,0.8)', line: {color: '#cccccc', width: 1}
  });
  const rows = [20, 35.8, 51.6, 67.4];
  rows.forEach((ro, s) => {
    const yy = py(bx.t + ro);
    shapes.push({type: 'line', xref: 'paper', yref: 'paper', layer: 'above',
      x0: px(bx.l + 14), x1: px(bx.l + 47.5), y0: yy, y1: yy,
      line: {color: colors[s], width: 1.5}});
    annotations.push({xref: 'paper', yref: 'paper', x: px(bx.l + 56.5), y: yy,
      xanchor: 'left', yanchor: 'middle', showarrow: false, text: seriesNames[s],
      font: {family: FONT, size: 16, color: '#000'}});
  });
  // second line of the end tick labels
  annotations.push({xref: xa, yref: 'paper', x: 0, y: py(junY[p]), xanchor: 'center', yanchor: 'middle',
    showarrow: false, text: 'Jun-21', font: {family: FONT, size: 16, color: '#000'}});
  annotations.push({xref: xa, yref: 'paper', x: 1440, y: py(junY[p]), xanchor: 'center', yanchor: 'middle',
    showarrow: false, text: 'Jun-22', font: {family: FONT, size: 16, color: '#000'}});
  // sub-caption
  annotations.push({xref: 'paper', yref: 'paper', x: px(captionPos[p][0]), y: py(captionPos[p][1]),
    xanchor: 'center', yanchor: 'middle', showarrow: false, text: captions[p],
    font: {family: FONT, size: 24, color: '#000'}});
});
layout.shapes = shapes;
layout.annotations = annotations;

Plotly.newPlot('chart', traces, layout, {staticPlot: true, displayModeBar: false});
</script>
</body></html>
